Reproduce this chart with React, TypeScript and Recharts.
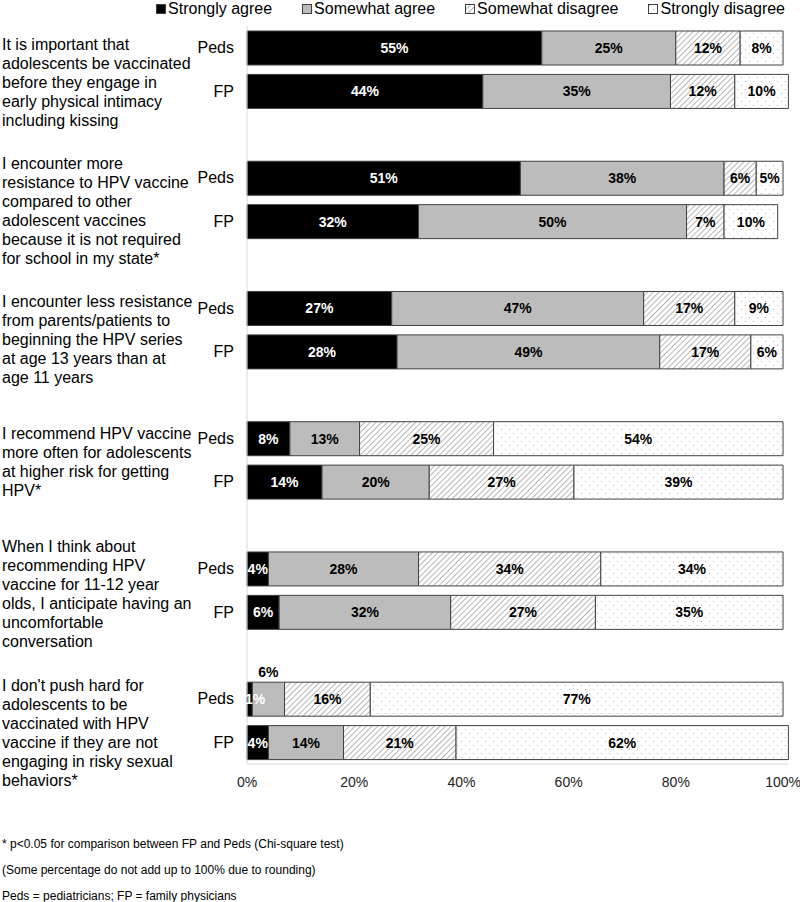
import React from 'react';
import { BarChart, Bar, XAxis, YAxis, LabelList } from 'recharts';

// statement text, one array of lines per item (as wrapped in the source figure)
const statements = [
  ['It is important that', 'adolescents be vaccinated', 'before they engage in', 'early physical intimacy', 'including kissing'],
  ['I encounter more', 'resistance to HPV vaccine', 'compared to other', 'adolescent vaccines', 'because it is not required', 'for school in my state*'],
  ['I encounter less resistance', 'from parents/patients to', 'beginning the HPV series', 'at age 13 years than at', 'age 11 years'],
  ['I recommend HPV vaccine', 'more often for adolescents', 'at higher risk for getting', 'HPV*'],
  ['When I think about', 'recommending HPV', 'vaccine for 11-12 year', 'olds, I anticipate having an', 'uncomfortable', 'conversation'],
  ["I don't push hard for", 'adolescents to be', 'vaccinated with HPV', 'vaccine if they are not', 'engaging in risky sexual', 'behaviors*'],
];
const respondents = ['Peds', 'FP'];

// [Peds, FP] per statement
const stronglyAgree = [[55, 44], [51, 32], [27, 28], [8, 14], [4, 6], [1, 4]];
const somewhatAgree = [[25, 35], [38, 50], [47, 49], [13, 20], [28, 32], [6, 14]];
const somewhatDisagree = [[12, 12], [6, 7], [17, 17], [25, 27], [34, 27], [16, 21]];
const stronglyDisagree = [[8, 10], [5, 10], [9, 6], [54, 39], [34, 35], [77, 62]];

const xTicks = [0, 20, 40, 60, 80, 100];

const footnotes = [
  '* p<0.05 for comparison between FP and Peds (Chi-square test)',
  '(Some percentage do not add up to 100% due to rounding)',
  'Peds = pediatricians; FP = family physicians',
];

// small vertical nudges so the statement blocks sit where the original puts them
const statementShift = [13, 11, 10, 2, 4, 12];

const FONT = '"Liberation Sans", Arial, Helvetica, sans-serif';
const EDGE = '#404040';

type Row = {
  id: string;
  group: number;
  who: string;
  sa?: number;
  ma?: number;
  md?: number;
  sd?: number;
};

const rows: Row[] = [];
statements.forEach((_, g) => {
  respondents.forEach((who, k) => {
    rows.push({
      id: `${g}-${who}`,
      group: g,
      who,
      sa: stronglyAgree[g][k],
      ma: somewhatAgree[g][k],
      md: somewhatDisagree[g][k],
      sd: stronglyDisagree[g][k],
    });
  });
  if (g < statements.length - 1) rows.push({ id: `${g}-gap`, group: g, who: '' });
});

const CHART_H = 800;
const MARGIN = { top: 26, right: 11.6, bottom: 6, left: 0 };
const X_AXIS_H = 30;
const bandH = (CHART_H - MARGIN.top - MARGIN.bottom - X_AXIS_H) / rows.length;

// labels that the original moves above the bar
const labelsAbove = ['5-Peds:ma'];

const RowTick = (props: any) => {
  const { x, y, payload } = props;
  const row = rows.find((r) => r.id === payload.value);
  if (!row || !row.who) return <g />;
  const lines = statements[row.group];
  const mid = y + bandH / 2 + statementShift[row.group];
  return (
    <g>
      <text x={x} y={y} textAnchor="end" dominantBaseline="central" fontSize={16} fill="#000">
        {row.who}
      </text>
      {row.who === 'Peds' &&
        lines.map((line, i) => (
          <text
            key={i}
            x={2}
            y={mid + (i - (lines.length - 1) / 2) * 19}
            dominantBaseline="central"
            fontSize={16}
            fill="#000"
          >
            {line}
          </text>
        ))}
    </g>
  );
};

// label value comes in as "rowId|key|value"
const labelValue = (key: string) => (row: any) =>
  row[key] == null ? null : `${row.id}|${key}|${row[key]}`;

const segLabel = (color: string) => (props: any) => {
  const { x, y, width, height, value } = props;
  if (value == null || value === '') return null;
  const [id, key, v] = String(value).split('|');
  const bx = Number(x);
  const by = Number(y);
  const w = Number(width);
  const h = Number(height);
  if (labelsAbove.includes(`${id}:${key}`)) {
    return (
      <text x={bx + w / 2} y={by - 10} textAnchor="middle" dominantBaseline="central" fontSize={14} fontWeight="bold" fill="#000">
        {`${v}%`}
      </text>
    );
  }
  const narrow = w < 10;
  return (
    <text
      x={narrow ? bx - 2 : bx + w / 2}
      y={by + h / 2}
      textAnchor={narrow ? 'start' : 'middle'}
      dominantBaseline="central"
      fontSize={14}
      fontWeight="bold"
      fill={color}
    >
      {`${v}%`}
    </text>
  );
};

const series = [
  { key: 'sa', name: 'Strongly agree', fill: '#000000', text: '#ffffff' },
  { key: 'ma', name: 'Somewhat agree', fill: '#bcbcbc', text: '#000000' },
  { key: 'md', name: 'Somewhat disagree', fill: 'url(#hatch)', text: '#000000' },
  { key: 'sd', name: 'Strongly disagree', fill: 'url(#dots)', text: '#000000' },
];

const Patterns = () => (
  <svg width={0} height={0} style={{ position: 'absolute' }}>
    <defs>
      <pattern id="hatch" patternUnits="userSpaceOnUse" width={4} height={4} patternTransform="rotate(45)">
        <rect width={4} height={4} fill="#ffffff" />
        <line x1={0} y1={0} x2={0} y2={4} stroke="#a3a3a3" strokeWidth={1.6} />
      </pattern>
      <pattern id="dots" patternUnits="userSpaceOnUse" width={8} height={8}>
        <rect width={8} height={8} fill="#ffffff" />
        <rect x={1} y={1} width={1} height={1} fill="#b5b5b5" />
        <rect x={5} y={5} width={1} height={1} fill="#b5b5b5" />
      </pattern>
    </defs>
  </svg>
);

const Legend = () => (
  <div
    style={{
      position: 'absolute',
      top: 0,
      right: 15,
      height: 18,
      display: 'flex',
      alignItems: 'center',
      gap: 30,
      fontSize: 16,
      lineHeight: '18px',
    }}
  >
    {series.map((s) => (
      <div key={s.key} style={{ display: 'flex', alignItems: 'center', gap: 2 }}>
        <svg width={10} height={10}>
          <rect x={0.5} y={0.5} width={9} height={9} fill={s.fill} stroke={EDGE} />
        </svg>
        <span>{s.name}</span>
      </div>
    ))}
  </div>
);

export default function App() {
  return (
    <div
      style={{
        position: 'absolute',
        left: 0,
        top: 0,
        width: 800,
        height: 902,
        background: '#fff',
        fontFamily: FONT,
        color: '#000',
        overflow: 'hidden',
      }}
    >
      <Patterns />
      <Legend />
      <BarChart width={800} height={CHART_H} data={rows} layout="vertical" margin={MARGIN} barSize={34}>
        <XAxis
          type="number"
          domain={[0, 101]}
          ticks={xTicks}
          tickFormatter={(v: number) => `${v}%`}
          axisLine={{ stroke: '#d9d9d9' }}
          tickLine={false}
          tickMargin={7}
          height={X_AXIS_H}
          tick={{ fontSize: 14, fill: '#222' }}
        />
        <YAxis
          type="category"
          dataKey="id"
          width={247}
          interval={0}
          axisLine={{ stroke: '#d9d9d9' }}
          tickLine={false}
          tickMargin={7}
          tick={<RowTick />}
        />
        {series.map((s) => (
          <Bar key={s.key} dataKey={s.key} stackId="a" fill={s.fill} stroke={EDGE} strokeWidth={1} isAnimationActive={false}>
            <LabelList dataKey={labelValue(s.key)} content={segLabel(s.text)} />
          </Bar>
        ))}
      </BarChart>
      {footnotes.map((t, i) => (
        <div
          key={i}
          style={{ position: 'absolute', left: 2, top: 837 + i * 26, fontSize: 12, lineHeight: '14px', whiteSpace: 'nowrap' }}
        >
          {t}
        </div>
      ))}
    </div>
  );
}
